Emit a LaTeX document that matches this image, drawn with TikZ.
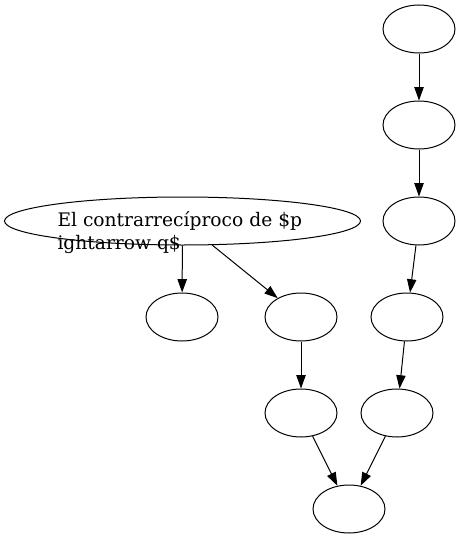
\documentclass[tikz,border=0pt]{standalone}
\usepackage{fontspec}
\setmainfont{DejaVu Serif}
\usetikzlibrary{shapes.geometric,arrows.meta}
\begin{document}
\begin{tikzpicture}[x=0.75pt,y=-0.75pt,line width=0.75pt,
  every node/.style={draw,ellipse,minimum width=54pt,minimum height=36pt,inner sep=0pt},
  >={Triangle[length=10pt,width=7pt]}]
\useasboundingbox (0,0) rectangle (461,539);
\node (big) at (182.5,221) [minimum width=267pt] {};
\node (lbl) at (57,249) [draw=none,shape=rectangle,anchor=base west,align=left,
  font=\fontsize{14pt}{17pt}\selectfont,minimum width=0pt,minimum height=0pt]
  {El contrarrecíproco de \$p\\ightarrow q\$};
\node (a1) at (419,29) {};
\node (a2) at (419,125) {};
\node (a3) at (419,221) {};
\node (b1) at (182,317) {};
\node (b2) at (301,317) {};
\node (a4) at (407,317) {};
\node (b3) at (301,413) {};
\node (a5) at (397,413) {};
\node (c) at (349,509) {};

\draw[->] (big) -- (b1);
\draw[->] (big) -- (b2);
\draw[->] (a1) -- (a2);
\draw[->] (a2) -- (a3);
\draw[->] (a3) -- (a4);
\draw[->] (b2) -- (b3);
\draw[->] (a4) -- (a5);
\draw[->] (b3) -- (c);
\draw[->] (a5) -- (c);
\end{tikzpicture}
\end{document}
